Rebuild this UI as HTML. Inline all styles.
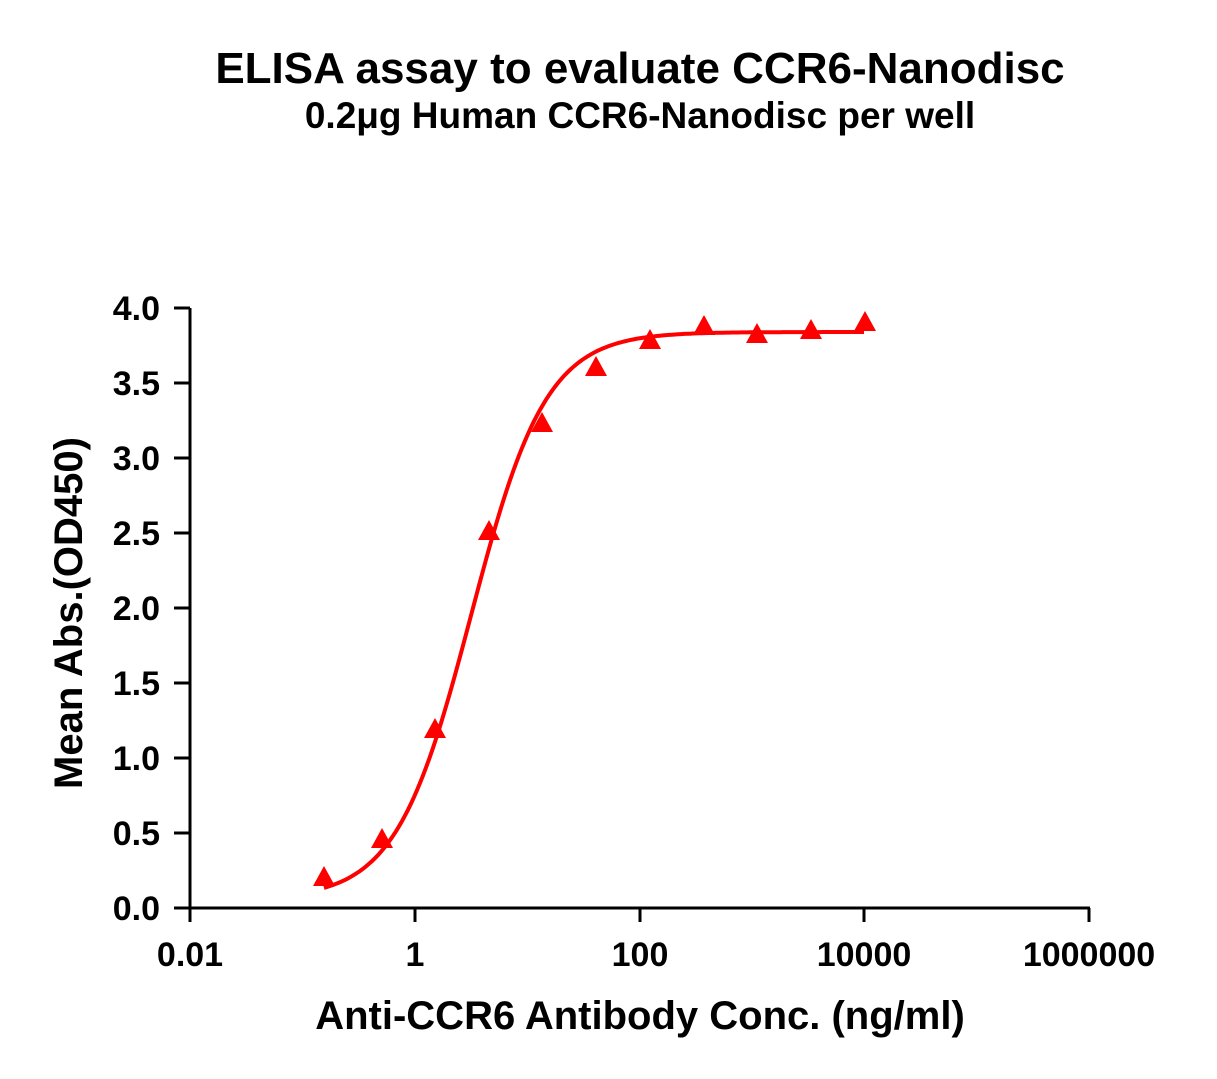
<!DOCTYPE html>
<html><head><style>body{margin:0;background:#fff}svg{display:block}text{font-family:"Liberation Sans",Arial,sans-serif;font-weight:bold;fill:#000}</style></head>
<body>
<svg id="s" width="1217" height="1079" xmlns="http://www.w3.org/2000/svg">
<text x="640" y="83" font-size="44" text-anchor="middle">ELISA assay to evaluate CCR6-Nanodisc</text>
<text x="640" y="128" font-size="37" text-anchor="middle">0.2μg Human CCR6-Nanodisc per well</text>
<g stroke="#000" stroke-width="3" fill="none">
<line x1="190" y1="308" x2="190" y2="910"/>
<line x1="188" y1="908" x2="1090" y2="908"/>
<line x1="174" y1="308" x2="190" y2="308"/><line x1="174" y1="383" x2="190" y2="383"/>
<line x1="174" y1="458" x2="190" y2="458"/><line x1="174" y1="533" x2="190" y2="533"/>
<line x1="174" y1="608" x2="190" y2="608"/><line x1="174" y1="683" x2="190" y2="683"/>
<line x1="174" y1="758" x2="190" y2="758"/><line x1="174" y1="833" x2="190" y2="833"/>
<line x1="174" y1="908" x2="190" y2="908"/>
<line x1="190" y1="908" x2="190" y2="922"/><line x1="415" y1="908" x2="415" y2="922"/>
<line x1="640" y1="908" x2="640" y2="922"/><line x1="864" y1="908" x2="864" y2="922"/>
<line x1="1089" y1="908" x2="1089" y2="922"/>
</g>
<g font-size="34" text-anchor="end">
<text x="160" y="320">4.0</text><text x="160" y="395">3.5</text><text x="160" y="470">3.0</text>
<text x="160" y="545">2.5</text><text x="160" y="620">2.0</text><text x="160" y="695">1.5</text>
<text x="160" y="770">1.0</text><text x="160" y="845">0.5</text><text x="160" y="920">0.0</text>
</g>
<g font-size="34" text-anchor="middle">
<text x="190" y="966">0.01</text><text x="415" y="966">1</text><text x="640" y="966">100</text>
<text x="864" y="966">10000</text><text x="1089" y="966">1000000</text>
</g>
<text x="640" y="1029" font-size="40" text-anchor="middle">Anti-CCR6 Antibody Conc. (ng/ml)</text>
<text transform="translate(82,613) rotate(-90)" font-size="40" text-anchor="middle">Mean Abs.(OD450)</text>
<path id="c" fill="none" stroke="#f00" stroke-width="4"/>
<g id="m" fill="#f00"></g>
</svg>
<script>
var d="";for(var px=324;px<=865;px+=3){var l=-2+(px-190)/112.4;var y=0.06+3.78/(1+Math.pow(10,(0.5-l)*1.3));d+=(px==324?"M":"L")+px+","+(908-150*y).toFixed(1);}
document.getElementById("c").setAttribute("d",d);
var pts=[[324,878],[382,840],[435,730],[489,532],[542,424],[596,368],[650,341],[704,327],[757,335],[811,331],[865,323]];
var g=document.getElementById("m");pts.forEach(function(p){var t=document.createElementNS("http://www.w3.org/2000/svg","polygon");t.setAttribute("points",(p[0])+","+(p[1]-12)+" "+(p[0]-11)+","+(p[1]+8)+" "+(p[0]+11)+","+(p[1]+8));g.appendChild(t);});
</script>
</body></html>
